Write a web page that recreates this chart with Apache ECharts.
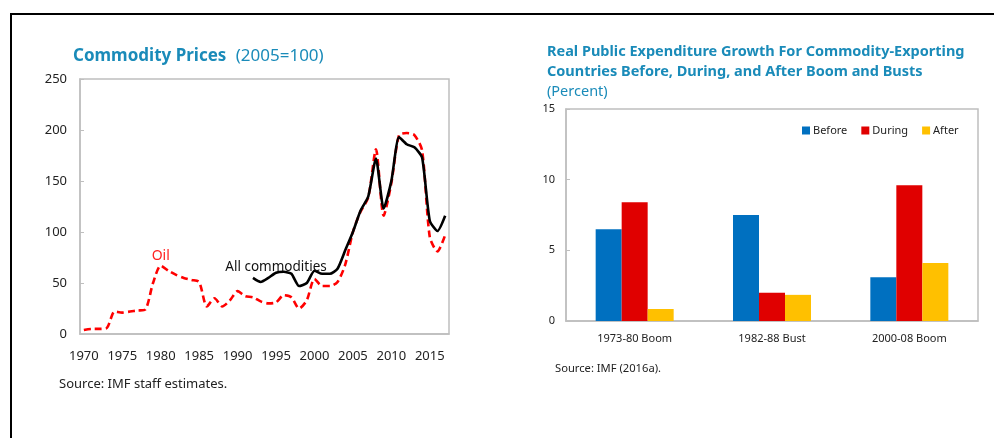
<!DOCTYPE html>
<html>
<head>
<meta charset="utf-8">
<script src="https://cdn.jsdelivr.net/npm/echarts@6/dist/echarts.min.js"></script>
<style>
    html, body { margin: 0; padding: 0; background: #fff; }
    #wrap { position: relative; width: 994px; height: 438px; overflow: hidden; }
    #chart { width: 994px; height: 438px; }
    #frame {
        position: absolute; left: 10px; top: 13px; width: 1000px; height: 440px;
        border-top: 2px solid #000; border-left: 2px solid #000; pointer-events: none;
    }
</style>
</head>
<body>
<div id="wrap">
    <div id="chart"></div>
    <div id="frame"></div>
</div>
<script>
// left panel: commodity prices (2005=100)
const years = [
    '1970', '1971', '1972', '1973', '1974', '1975', '1976', '1977', '1978', '1979',
    '1980', '1981', '1982', '1983', '1984', '1985', '1986', '1987', '1988', '1989',
    '1990', '1991', '1992', '1993', '1994', '1995', '1996', '1997', '1998', '1999',
    '2000', '2001', '2002', '2003', '2004', '2005', '2006', '2007', '2008', '2009',
    '2010', '2011', '2012', '2013', '2014', '2015', '2016', '2017',
];
const oil = [
    4, 5, 5, 6, 22, 21, 22, 23, 24, 50,
    67, 62, 58, 55, 53, 51, 27, 35, 27, 33,
    42, 37, 36, 32, 30, 31, 38, 36, 25, 33,
    54, 47, 47, 51, 68, 100, 120, 134, 181, 116,
    148, 195, 197, 195, 180, 95, 81, 97,
];
// all commodities starts in 1992
const commoditiesStart = '1992';
const allCommodities = [
    55, 51, 55, 60, 61, 59, 47, 50,
    62, 59, 59, 64, 82, 100, 121, 135, 172, 123,
    150, 193, 186, 183, 173, 111, 101, 116,
];

// right panel: real public expenditure growth (percent)
const episodes = ['1973-80 Boom', '1982-88 Bust', '2000-08 Boom'];
const before = [6.5, 7.5, 3.1];
const during = [8.4, 2.0, 9.6];
const after = [0.85, 1.85, 4.1];

const titleColor = '#1a8bb9';
const axisGray = '#bfbfbf';
const font = 'Noto Sans';

const chart = echarts.init(document.getElementById('chart'));

const padIdx = years.indexOf(commoditiesStart);
const commoditiesData = Array(padIdx).fill(null).concat(allCommodities);

const option = {
    animation: false,
    textStyle: { fontFamily: font },
    title: [
        {
            text: '{b|Commodity Prices}  {n|(2005=100)}',
            left: 68, top: 42,
            textStyle: {
                rich: {
                    b: { fontFamily: font, fontSize: 17, fontWeight: 'bold', color: titleColor },
                    n: { fontFamily: font, fontSize: 17, fontWeight: 'normal', color: titleColor },
                },
            },
        },
        {
            text: '{b|Real Public Expenditure Growth For Commodity-Exporting}\n{b|Countries Before, During, and After Boom and Busts}\n{n|(Percent)}',
            left: 542, top: 37,
            textStyle: {
                rich: {
                    b: { fontFamily: font, fontSize: 14.5, fontWeight: 'bold', color: titleColor, lineHeight: 20 },
                    n: { fontFamily: font, fontSize: 14.5, fontWeight: 'normal', color: titleColor, lineHeight: 20 },
                },
            },
        },
        {
            text: 'Source: IMF staff estimates.',
            left: 54, top: 373,
            textStyle: { fontFamily: font, fontSize: 13, fontWeight: 'normal', color: '#222' },
        },
        {
            text: 'Source: IMF (2016a).',
            left: 550, top: 358,
            textStyle: { fontFamily: font, fontSize: 11.2, fontWeight: 'normal', color: '#222' },
        },
    ],
    legend: {
        data: ['Before', 'During', 'After'],
        left: 797, top: 120,
        icon: 'rect',
        itemWidth: 8, itemHeight: 8, itemGap: 14,
        textStyle: { fontFamily: font, fontSize: 11, color: '#222', padding: [0, 0, 0, -2] },
    },
    grid: [
        { left: 80, top: 79, width: 369, height: 255, show: true, borderColor: axisGray, borderWidth: 1.5 },
        { left: 566, top: 109, width: 412, height: 212, show: true, borderColor: axisGray, borderWidth: 1.5 },
    ],
    xAxis: [
        {
            gridIndex: 0,
            type: 'category',
            data: years,
            boundaryGap: true,
            axisLine: { lineStyle: { color: axisGray, width: 1.5 } },
            axisTick: { inside: true, length: 5, interval: 4, lineStyle: { color: axisGray } },
            axisLabel: { interval: 4, fontSize: 13, color: '#222', margin: 16 },
        },
        {
            gridIndex: 1,
            type: 'category',
            data: episodes,
            axisLine: { lineStyle: { color: axisGray, width: 1.5 } },
            axisTick: { inside: true, length: 4, lineStyle: { color: axisGray } },
            axisLabel: { fontSize: 11, color: '#222', margin: 12 },
        },
    ],
    yAxis: [
        {
            gridIndex: 0,
            type: 'value',
            min: 0, max: 250, interval: 50,
            splitLine: { show: false },
            axisLine: { show: true, lineStyle: { color: axisGray, width: 1.5 } },
            axisTick: { show: true, inside: true, length: 4, lineStyle: { color: axisGray } },
            axisLabel: { fontSize: 13, color: '#222', margin: 13 },
        },
        {
            gridIndex: 1,
            type: 'value',
            min: 0, max: 15, interval: 5,
            splitLine: { show: false },
            axisLine: { show: true, lineStyle: { color: axisGray, width: 1.5 } },
            axisTick: { show: true, inside: true, length: 4, lineStyle: { color: axisGray } },
            axisLabel: { fontSize: 11, color: '#222', margin: 11 },
        },
    ],
    series: [
        {
            name: 'Oil',
            type: 'line',
            xAxisIndex: 0, yAxisIndex: 0,
            data: oil,
            smooth: 0.25,
            showSymbol: false,
            lineStyle: { color: '#ff0000', width: 2.6, type: [7, 4] },
            markPoint: {
                symbol: 'circle', symbolSize: 0,
                label: { show: true, formatter: 'Oil', color: '#ff2020', fontSize: 14, fontFamily: font },
                data: [{ coord: ['1980', 76] }],
            },
        },
        {
            name: 'All commodities',
            type: 'line',
            xAxisIndex: 0, yAxisIndex: 0,
            data: commoditiesData,
            smooth: 0.2,
            showSymbol: false,
            lineStyle: { color: '#000', width: 2.6 },
            markPoint: {
                symbol: 'circle', symbolSize: 0,
                label: { show: true, formatter: 'All commodities', color: '#111', fontSize: 13.5, fontFamily: font },
                data: [{ coord: ['1995', 66] }],
            },
        },
        {
            name: 'Before',
            type: 'bar',
            xAxisIndex: 1, yAxisIndex: 1,
            data: before,
            barWidth: 26, barGap: '0%',
            itemStyle: { color: '#0070c0' },
        },
        {
            name: 'During',
            type: 'bar',
            xAxisIndex: 1, yAxisIndex: 1,
            data: during,
            barWidth: 26, barGap: '0%',
            itemStyle: { color: '#e00000' },
        },
        {
            name: 'After',
            type: 'bar',
            xAxisIndex: 1, yAxisIndex: 1,
            data: after,
            barWidth: 26, barGap: '0%',
            itemStyle: { color: '#ffc000' },
        },
    ],
};

chart.setOption(option);
</script>
</body>
</html>
